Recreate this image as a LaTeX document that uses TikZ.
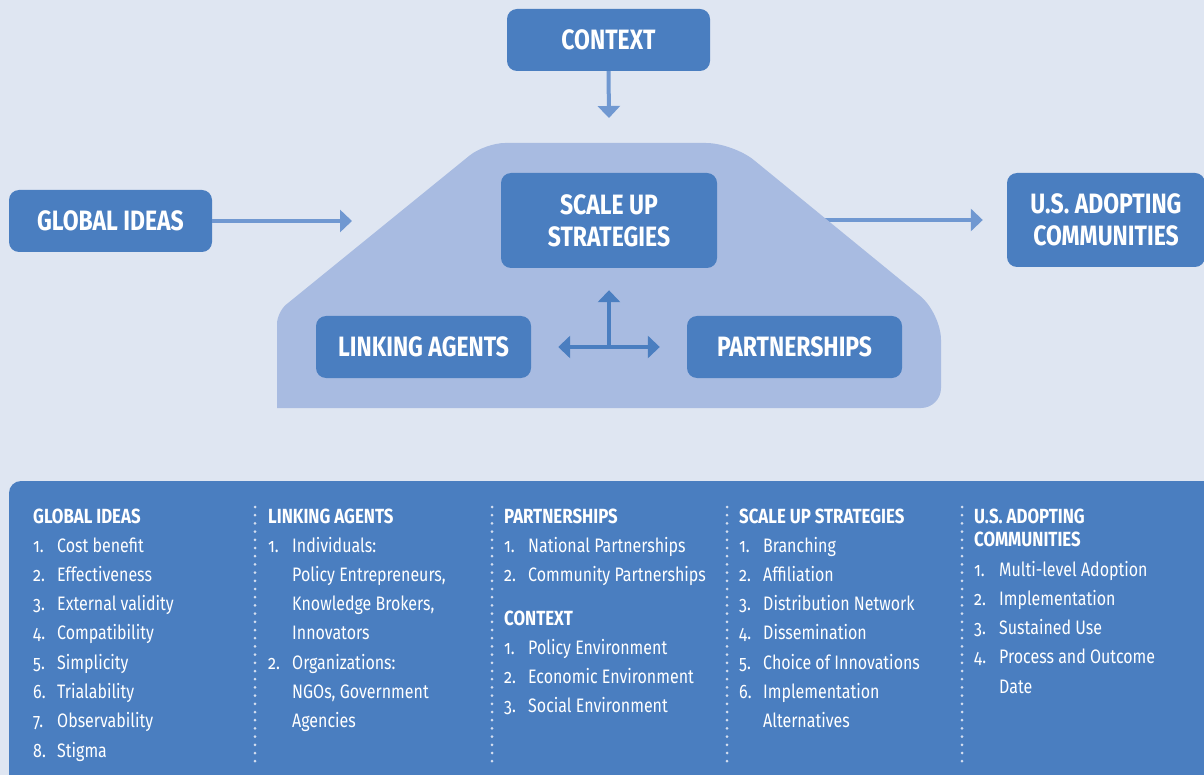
\documentclass[tikz,border=0pt]{standalone}
\usepackage{fontspec}
\setmainfont{Fira Sans}[FakeStretch=0.82]
\newfontfamily\numfont{Fira Sans}[FakeStretch=0.82,Numbers=OldStyle]
\usetikzlibrary{arrows.meta}
\definecolor{bgc}{HTML}{DFE6F2}
\definecolor{boxc}{HTML}{4A7EC0}
\definecolor{trapc}{HTML}{A8BBE1}
\definecolor{lightc}{HTML}{7098D1}
\definecolor{dotc}{HTML}{D3DEF0}
\begin{document}
\begin{tikzpicture}[x=1pt,y=-1pt,
  box/.style={fill=boxc, rounded corners=10pt, text=white, align=center, inner sep=0pt,
    font=\bfseries\fontsize{28}{32}\selectfont},
  lightarrow/.style={draw=lightc, line width=4pt, -{Triangle[length=12pt,width=22pt]}},
  darkarrow/.style={draw=boxc, line width=3.5pt},
  dotline/.style={draw=dotc, line width=3pt, line cap=round, dash pattern=on 0pt off 8.2pt},
  hdr/.style={anchor=base west, inner sep=0pt, text=white, font=\bfseries\fontsize{20.5}{23}\selectfont},
  num/.style={anchor=base west, inner sep=0pt, text=white, font=\numfont\fontsize{19.5}{22}\selectfont},
  itm/.style={anchor=base west, inner sep=0pt, text=white, font=\fontsize{19.5}{24}\selectfont}
]
\useasboundingbox (0,0) rectangle (1204,775);
\fill[bgc] (0,0) rectangle (1204,775);

% nodes (boxes)
\node[box, minimum width=203pt, minimum height=62pt] (context) at (608.5,40) {CONTEXT};
\node[box, minimum width=203pt, minimum height=62pt] (global) at (110.5,221) {GLOBAL IDEAS};
\node[box, minimum width=198pt, minimum height=94pt] (us) at (1106,220) {U.S. ADOPTING\\COMMUNITIES};
\coordinate (ctip) at (609,118);
\coordinate (gtip) at (352,221);

% light connectors (behind the cluster)
\draw[lightarrow] (context.south) -- (ctip);
\draw[lightarrow] (global.east) -- (gtip);
\draw[lightarrow, shorten >=24pt] (609,220) -- (us.west);

% cluster
\fill[trapc] (609,408) -- (277,408) [rounded corners=12pt] -- (277,312) [rounded corners=20pt] -- (485,143) [rounded corners=27pt] -- (733,143) [rounded corners=27pt] -- (941,313) [rounded corners=20pt] -- (941,408) [rounded corners=12pt] -- cycle;

\node[box, minimum width=216pt, minimum height=95pt] (scale) at (609,220.5) {SCALE UP\\STRATEGIES};
\node[box, minimum width=215pt, minimum height=62pt] (linking) at (423.5,347) {LINKING AGENTS};
\node[box, minimum width=215pt, minimum height=62pt] (partner) at (794.5,347) {PARTNERSHIPS};
\coordinate (hub) at (609,347);

\draw[darkarrow, -{Triangle[length=12pt,width=22pt]}, shorten >=22pt] (hub) -- (scale.south);
\draw[darkarrow, {Triangle[length=12pt,width=22pt]}-{Triangle[length=12pt,width=22pt]}, shorten >=27pt, shorten <=27pt] (linking.east) -- (partner.west);

% bottom panel
\fill[boxc, rounded corners=12pt] (9,481) rectangle (1216,790);
\draw[dotline] (255,507) -- (255,762);
\draw[dotline] (492,507) -- (492,762);
\draw[dotline] (727,507) -- (727,762);
\draw[dotline] (962,507) -- (962,762);

% column 1
\node[hdr] (h1) at (33,523) {GLOBAL IDEAS};
\foreach \t [count=\i] in {Cost benefit, Effectiveness, External validity, Compatibility, Simplicity, Trialability, Observability, Stigma}{
  \node[num] (n1\i) at (33,{552+29.3*(\i-1)}) {\i.};
  \node[itm] (t1\i) at (57,{552+29.3*(\i-1)}) {\t};
}

% column 2
\node[hdr] (h2) at (268,523) {LINKING AGENTS};
\node[num] (n21) at (268,552) {1.};
\node[itm] (t21) at (292,552) {Individuals:};
\node[itm] (t22) at (292,581.3) {Policy Entrepreneurs,};
\node[itm] (t23) at (292,610.6) {Knowledge Brokers,};
\node[itm] (t24) at (292,639.9) {Innovators};
\node[num] (n22) at (268,669.2) {2.};
\node[itm] (t25) at (292,669.2) {Organizations:};
\node[itm] (t26) at (292,698.5) {NGOs, Government};
\node[itm] (t27) at (292,727.8) {Agencies};

% column 3
\node[hdr] (h3) at (504,523) {PARTNERSHIPS};
\node[num] (n31) at (504,552) {1.};
\node[itm] (t31) at (528,552) {National Partnerships};
\node[num] (n32) at (504,581.3) {2.};
\node[itm] (t32) at (528,581.3) {Community Partnerships};
\node[hdr] (h3b) at (504,625) {CONTEXT};
\foreach \t [count=\i] in {Policy Environment, Economic Environment, Social Environment}{
  \node[num] (n3c\i) at (504,{654+29.3*(\i-1)}) {\i.};
  \node[itm] (t3c\i) at (528,{654+29.3*(\i-1)}) {\t};
}

% column 4
\node[hdr] (h4) at (739,523) {SCALE UP STRATEGIES};
\foreach \t [count=\i] in {Branching, Affiliation, Distribution Network, Dissemination, Choice of Innovations, Implementation}{
  \node[num] (n4\i) at (739,{552+29.3*(\i-1)}) {\i.};
  \node[itm] (t4\i) at (763,{552+29.3*(\i-1)}) {\t};
}
\node[itm] (t47) at (763,727.8) {Alternatives};

% column 5
\node[hdr] (h5) at (974,523) {U.S. ADOPTING};
\node[hdr] (h5b) at (974,546) {COMMUNITIES};
\foreach \t [count=\i] in {Multi-level Adoption, Implementation, Sustained Use, Process and Outcome}{
  \node[num] (n5\i) at (974,{576+29.3*(\i-1)}) {\i.};
  \node[itm] (t5\i) at (999,{576+29.3*(\i-1)}) {\t};
}
\node[itm] (t55) at (999,693.2) {Date};
\end{tikzpicture}
\end{document}
